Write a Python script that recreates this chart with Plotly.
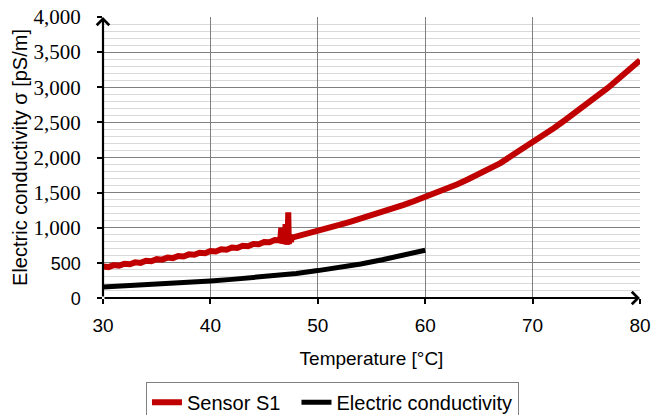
import plotly.graph_objects as go

# Sensor S1 (red)
sensor_t = [30, 30.5, 31, 31.5, 32, 32.5, 33, 33.5, 34, 34.5, 35, 35.5, 36, 36.5, 37, 37.5,
            38, 38.5, 39, 39.5, 40, 40.5, 41, 41.5, 42, 42.5, 43, 43.5, 44, 44.5, 45, 45.5,
            46, 46.5, 46.6, 46.7, 46.8, 46.9, 47.0, 47.1, 47.2, 47.25, 47.3, 47.4, 47.5, 47.6,
            48, 49, 50, 51, 52, 53, 54, 55, 56, 57, 58, 59, 60, 61, 62, 63, 64, 65, 66, 67,
            68, 69, 70, 71, 72, 73, 74, 75, 76, 77, 78, 79, 80]
sensor_v = [448, 440, 468, 460, 488, 480, 508, 500, 530, 523, 553, 546, 575, 568, 598, 591,
            621, 615, 645, 638, 668, 662, 693, 687, 718, 712, 743, 738, 770, 766, 798, 793,
            825, 820, 1000, 770, 950, 790, 1050, 760, 900, 1220, 770, 900, 800, 860,
            875, 915, 955, 1000, 1040, 1085, 1130, 1175, 1225, 1275, 1325, 1380, 1435, 1495,
            1555, 1620, 1690, 1760, 1840, 1920, 2020, 2115, 2220, 2320, 2420, 2530, 2640,
            2750, 2870, 2990, 3120, 3250, 3385]

# Electric conductivity (black)
cond_t = [30, 32, 34, 36, 38, 40, 42, 44, 46, 48, 50, 52, 54, 56, 58, 60]
cond_v = [158, 172, 187, 203, 222, 243, 265, 290, 317, 350, 390, 435, 485, 545, 610, 680]

x_ticks = [30, 40, 50, 60, 70, 80]
y_ticks = [0, 500, 1000, 1500, 2000, 2500, 3000, 3500, 4000]

sans = "Liberation Sans"
serif = "Liberation Serif"


def ylab(v):
    s = f"{v:,}"
    if v <= 500:
        return f"<span style='font-family:{sans};font-size:18px'>{s}</span>"
    return s


fig = go.Figure()
fig.add_trace(go.Scatter(x=sensor_t, y=sensor_v, mode="lines", name="Sensor S1&nbsp;&nbsp;",
                         line=dict(color="#c00000", width=6)))
fig.add_trace(go.Scatter(x=cond_t, y=cond_v, mode="lines", name="Electric conductivity",
                         line=dict(color="#000000", width=5)))

fig.update_layout(
    width=666, height=415,
    margin=dict(l=103, r=26, t=17, b=117, autoexpand=False),
    paper_bgcolor="white", plot_bgcolor="white",
    showlegend=True,
    legend=dict(orientation="h", x=0.08, xref="paper", y=0.08, yref="container",
                xanchor="left", yanchor="top",
                bordercolor="#808080", borderwidth=1,
                font=dict(family=sans, size=20, color="black"),
                itemwidth=30, tracegroupgap=0),
    font=dict(family=sans, color="black"),
)
fig.update_xaxes(range=[30, 80], tickvals=x_ticks, ticktext=[str(v) for v in x_ticks],
                 showgrid=True, gridcolor="#808080", gridwidth=1,
                 ticks="outside", ticklen=5, tickwidth=2, tickcolor="black",
                 showline=False, zeroline=False, automargin=False,
                 ticklabelstandoff=5,
                 tickfont=dict(family=sans, size=19, color="black"),
                 title=dict(text="Temperature [°C]", font=dict(family=sans, size=19, color="black"),
                            standoff=16))
fig.update_yaxes(range=[0, 4000], tickvals=y_ticks, ticktext=[ylab(v) for v in y_ticks],
                 showgrid=True, gridcolor="#808080", gridwidth=1,
                 minor=dict(dtick=100, showgrid=True, gridcolor="#d9d9d9", gridwidth=1),
                 ticks="outside", ticklen=5, tickwidth=2, tickcolor="black",
                 showline=False, zeroline=False, automargin=False,
                 ticklabelstandoff=12,
                 tickfont=dict(family=serif, size=21, color="black"),
                 title=dict(text="Electric conductivity σ [pS/m]",
                            font=dict(family=sans, size=20, color="black"), standoff=0))

# axis lines with arrowheads
fig.add_annotation(x=30, y=4000, ax=30, ay=0, xref="x", yref="y", axref="x", ayref="y",
                   showarrow=True, arrowhead=4, arrowsize=1.1, arrowwidth=2.2,
                   arrowcolor="black", text="")
fig.add_annotation(x=80, y=0, ax=30, ay=0, xref="x", yref="y", axref="x", ayref="y",
                   showarrow=True, arrowhead=4, arrowsize=1.1, arrowwidth=2.2,
                   arrowcolor="black", text="")

fig.write_html("out.html")
